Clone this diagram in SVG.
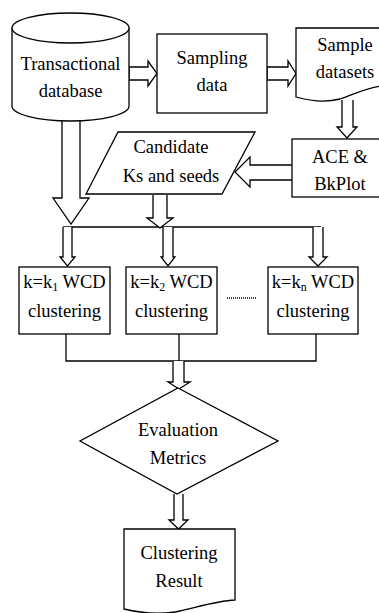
<svg xmlns="http://www.w3.org/2000/svg" width="379" height="613" viewBox="0 0 379 613">
<style>
.s{fill:#fff;stroke:#000;stroke-width:1.3;stroke-linejoin:miter}
.l{fill:none;stroke:#000;stroke-width:1.3}
.t{font-family:"Liberation Serif","Times New Roman",serif;font-size:18.5px;fill:#000;text-anchor:middle}
</style>
<rect width="379" height="613" fill="#fff"/>
<g id="connectors">
  <!-- cylinder -> sampling -->
  <path class="s" d="M129,67 H148 V61 L157,73.5 L148,86 V80 H129 Z"/>
  <!-- sampling -> sample datasets -->
  <path class="s" d="M267,67 H288 V61 L296,73.5 L288,86 V80 H267 Z"/>
  <!-- sample datasets -> ACE -->
  <path class="s" d="M342,100 V127 H337 L347,138 L357,127 H353 V100"/>
  <!-- ACE -> candidate -->
  <path class="s" d="M292,165 H250 V157 L235,172 L250,187 V180 H292"/>
  <!-- cylinder -> down -->
  <path class="s" d="M62,121 V198 H53 L71,224 L89,198 H80 V121"/>
  <!-- distribution line -->
  <path class="l" d="M63,227 H321"/>
  <!-- candidate -> down -->
  <path class="s" d="M153,195 V218 H147 L160,228 L173,218 H167 V195"/>
  <!-- to boxes -->
  <path class="s" d="M63,227 V257 H60 L67.5,266 L75,257 H72 V227"/>
  <path class="s" d="M163,227 V257 H161 L168,266 L175,257 H173 V227"/>
  <path class="s" d="M313,227 V257 H309 L318,266 L327,257 H323 V227"/>
  <!-- dots -->
  <line x1="227" y1="298" x2="256" y2="298" stroke="#000" stroke-width="1.5" stroke-dasharray="1 1"/>
  <!-- collect lines -->
  <path class="l" d="M66,334 V361 H316 V334 M179,334 V361"/>
  <!-- junction -> diamond -->
  <path class="s" d="M173,361 V382 H168 L179,389 L190,382 H184 V361"/>
  <!-- diamond -> result -->
  <path class="s" d="M174,494 V520 H169 L178.5,529 L188,520 H183 V494"/>
</g>
<g id="database">
  <path class="s" d="M12,28 V106 A58.5,15 0 0 0 129,106 V28"/>
  <ellipse class="s" cx="70.5" cy="28" rx="58.5" ry="15"/>
  <text class="t" x="70.5" y="70">Transactional</text>
  <text class="t" x="70.5" y="97">database</text>
</g>
<g id="sampling">
  <rect class="s" x="157" y="34" width="110" height="79"/>
  <text class="t" x="212" y="64">Sampling</text>
  <text class="t" x="212" y="91">data</text>
</g>
<g id="sample-datasets">
  <path class="s" d="M296,28 H382 V86 C368,87 355,94 340,99 C325,103 310,101 296,97 Z"/>
  <text class="t" x="345" y="51">Sample</text>
  <text class="t" x="345" y="78">datasets</text>
</g>
<g id="ace">
  <rect class="s" x="292" y="139" width="90" height="58"/>
  <text class="t" x="340" y="163">ACE &amp;</text>
  <text class="t" x="340" y="190">BkPlot</text>
</g>
<g id="candidate">
  <path class="s" d="M118,132 H255 L222,194 H86 Z"/>
  <text class="t" x="171" y="153">Candidate</text>
  <text class="t" x="171" y="182">Ks and seeds</text>
</g>
<g id="box1">
  <rect class="s" x="19" y="267" width="91" height="67"/>
  <text class="t" x="64.5" y="288">k=k<tspan font-size="12" dy="3">1</tspan><tspan dy="-3"> WCD</tspan></text>
  <text class="t" x="64.5" y="317">clustering</text>
</g>
<g id="box2">
  <rect class="s" x="126" y="267" width="91" height="67"/>
  <text class="t" x="171.5" y="288">k=k<tspan font-size="12" dy="3">2</tspan><tspan dy="-3"> WCD</tspan></text>
  <text class="t" x="171.5" y="317">clustering</text>
</g>
<g id="boxn">
  <rect class="s" x="268" y="267" width="90" height="67"/>
  <text class="t" x="313" y="288">k=k<tspan font-size="12" dy="3">n</tspan><tspan dy="-3"> WCD</tspan></text>
  <text class="t" x="313" y="317">clustering</text>
</g>
<g id="evaluation">
  <path class="s" d="M178,388 L278,441 L177,494 L80,441 Z"/>
  <text class="t" x="178" y="436">Evaluation</text>
  <text class="t" x="178" y="464">Metrics</text>
</g>
<g id="result">
  <path class="s" d="M124,529 H235 V600 C215,601 195,608 175,612 C160,614 140,613 124,609 Z"/>
  <text class="t" x="179" y="559">Clustering</text>
  <text class="t" x="179" y="587">Result</text>
</g>
</svg>
